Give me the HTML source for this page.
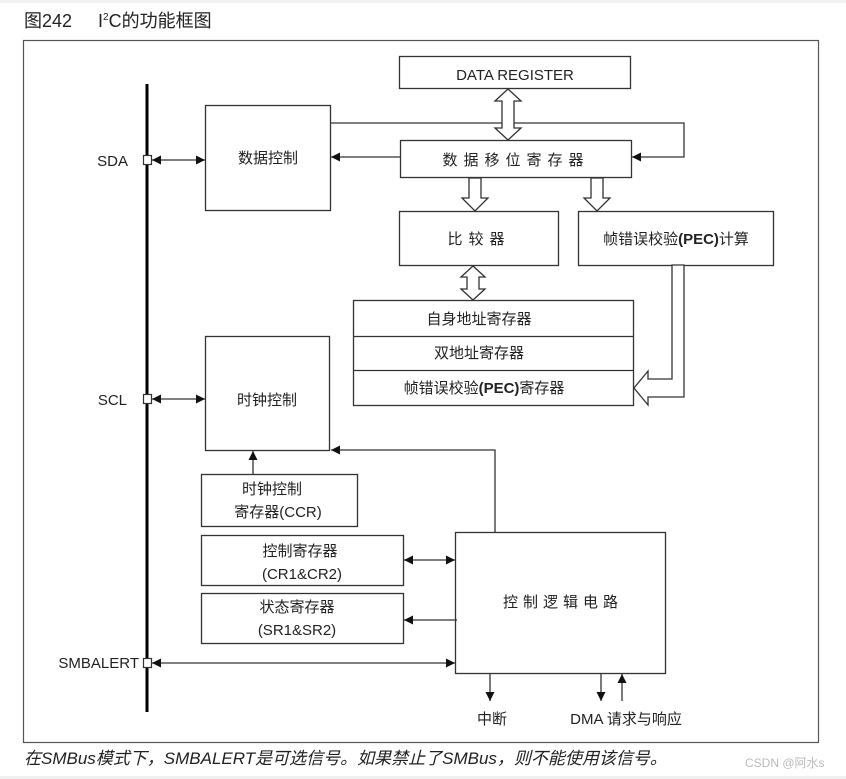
<!DOCTYPE html>
<html><head><meta charset="utf-8"><style>
html,body{margin:0;padding:0;background:#fff;}
svg{display:block;}
text{font-family:"Liberation Sans","Noto Sans CJK SC",sans-serif;fill:#222;}
</style></head><body>
<svg width="846" height="779" viewBox="0 0 846 779" xmlns="http://www.w3.org/2000/svg">
<defs>
<marker id="a" viewBox="0 0 10 10" refX="10" refY="5" markerWidth="9" markerHeight="9" markerUnits="userSpaceOnUse" orient="auto-start-reverse"><path d="M0,0L10,5L0,10z" fill="#111"/></marker>
</defs>
<rect x="0" y="0" width="846" height="3" fill="#f0f0f0"/>
<rect x="0" y="776" width="846" height="3" fill="#f0f0f0"/>
<text x="24" y="27" font-size="18">图242</text>
<text x="98" y="27" font-size="18">I<tspan font-size="10" dy="-7">2</tspan><tspan dy="7">C的功能框图</tspan></text>
<rect x="23.5" y="40.5" width="795" height="702" fill="none" stroke="#555" stroke-width="1.2"/>
<g fill="none" stroke="#333" stroke-width="1.3">
<line x1="147" y1="84" x2="147" y2="712" stroke="#000" stroke-width="3"/>
<rect x="399.5" y="56.5" width="231" height="32"/>
<rect x="400.5" y="140.5" width="231" height="37"/>
<rect x="205.5" y="105.5" width="125" height="105"/>
<rect x="399.5" y="211.5" width="159" height="54"/>
<rect x="578.5" y="211.5" width="195" height="54"/>
<rect x="353.5" y="300.5" width="280" height="105"/>
<line x1="353" y1="336.5" x2="633" y2="336.5"/>
<line x1="353" y1="370.5" x2="633" y2="370.5"/>
<rect x="205.5" y="336.5" width="124" height="114"/>
<rect x="201.5" y="474.5" width="156" height="52"/>
<rect x="201.5" y="535.5" width="202" height="50"/>
<rect x="201.5" y="593.5" width="202" height="50"/>
<rect x="455.5" y="532.5" width="210" height="141"/>
<polyline points="330,123 684,123 684,157 632,157" marker-end="url(#a)"/>
<line x1="400" y1="157" x2="331" y2="157" marker-end="url(#a)"/>
<line x1="152" y1="160" x2="205" y2="160" marker-start="url(#a)" marker-end="url(#a)"/>
<line x1="152" y1="399" x2="205" y2="399" marker-start="url(#a)" marker-end="url(#a)"/>
<line x1="152" y1="663" x2="455" y2="663" marker-start="url(#a)" marker-end="url(#a)"/>
<line x1="253" y1="474" x2="253" y2="451" marker-end="url(#a)"/>
<polyline points="495,532 495,450 331,450" marker-end="url(#a)"/>
<line x1="404" y1="560" x2="455" y2="560" marker-start="url(#a)" marker-end="url(#a)"/>
<line x1="457" y1="620" x2="404" y2="620" marker-end="url(#a)"/>
<line x1="490" y1="674" x2="490" y2="701" marker-end="url(#a)"/>
<line x1="601" y1="674" x2="601" y2="701" marker-end="url(#a)"/>
<line x1="622" y1="701" x2="622" y2="674" marker-end="url(#a)"/>
<polygon points="508,89 521,101 514,101 514,128 521,128 508,140 495,128 502,128 502,101 495,101" fill="#fff"/>
<polygon points="469,178 481,178 481,198 488,198 475,211 462,198 469,198" fill="#fff"/>
<polygon points="591,178 603,178 603,198 610,198 597,211 584,198 591,198" fill="#fff"/>
<polygon points="473,266 485,277 479,277 479,289 485,289 473,300 461,289 467,289 467,277 461,277" fill="#fff"/>
<polygon points="684,265 684,397 648,397 648,405 634,388 648,371 648,379 672,379 672,265" fill="#fff"/>
</g>
<g fill="#fff" stroke="#333" stroke-width="1.2">
<rect x="143.5" y="155.5" width="8" height="9"/>
<rect x="143.5" y="394.5" width="8" height="9"/>
<rect x="143.5" y="658.5" width="8" height="9"/>
</g>
<g font-size="15" text-anchor="middle">
<text x="515" y="80">DATA REGISTER</text>
<text x="516" y="165" letter-spacing="6">数据移位寄存器</text>
<text x="268" y="163">数据控制</text>
<text x="479" y="244" letter-spacing="6">比较器</text>
<text x="676" y="244">帧错误校验<tspan font-weight="bold">(PEC)</tspan>计算</text>
<text x="479" y="324">自身地址寄存器</text>
<text x="479" y="358">双地址寄存器</text>
<text x="484" y="393">帧错误校验<tspan font-weight="bold">(PEC)</tspan>寄存器</text>
<text x="267" y="405">时钟控制</text>
<text x="272" y="494">时钟控制</text>
<text x="278" y="517">寄存器(CCR)</text>
<text x="300" y="556">控制寄存器</text>
<text x="302" y="579">(CR1&amp;CR2)</text>
<text x="297" y="612">状态寄存器</text>
<text x="297" y="635">(SR1&amp;SR2)</text>
<text x="563" y="607" letter-spacing="5">控制逻辑电路</text>
<text x="492" y="724">中断</text>
<text x="626" y="724">DMA 请求与响应</text>
</g>
<g font-size="15" text-anchor="end">
<text x="128" y="166">SDA</text>
<text x="127" y="405">SCL</text>
<text x="139" y="668">SMBALERT</text>
</g>
<text x="24" y="764" font-size="17" font-style="italic">在SMBus模式下，SMBALERT是可选信号。如果禁止了SMBus，则不能使用该信号。</text>
<text x="745" y="767" font-size="12" style="fill:#bbb">CSDN @阿水s</text>
</svg>
</body></html>
